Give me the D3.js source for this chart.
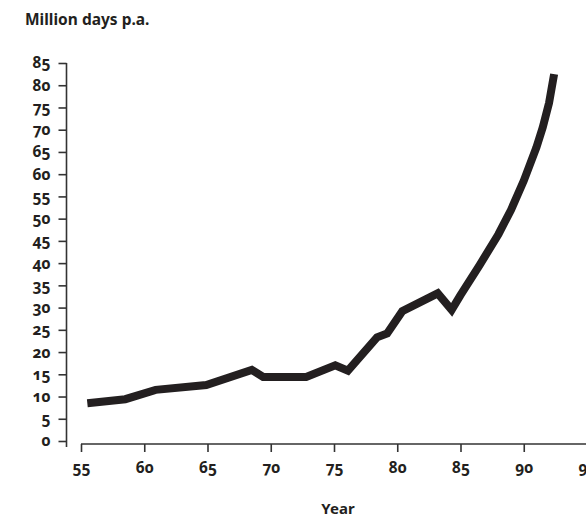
<!DOCTYPE html>
<html><head><meta charset="utf-8">
<script src="https://cdn.jsdelivr.net/npm/d3@7"></script>
<style>
html,body{margin:0;padding:0;background:#fff;}
text{font-family:"Noto Sans",sans-serif;font-weight:bold;fill:#231f20;font-variant-numeric:oldstyle-nums;}
</style></head>
<body><svg id="c" width="586" height="518"></svg>
<script>
const years = [55.5,58.5,60.9,64.9,68.5,69.4,72.8,75.1,76.1,78.4,79.2,80.4,83.2,84.3,85,86.5,88,89,90,91,91.5,92,92.4];
const values = [8.5,9.4,11.5,12.6,16,14.4,14.4,17,15.8,23.3,24.2,29.2,33.2,29.5,32.8,39.5,46.5,52,58.5,66,70.5,76,82.5];
const xTicks = [55,60,65,70,75,80,85,90,95];
const yTicks = [0,5,10,15,20,25,30,35,40,45,50,55,60,65,70,75,80,85];
const title = "Million days p.a.";
const xTitle = "Year";

const svg = d3.select("#c");
const x = d3.scaleLinear().domain([55,95]).range([81,587]);
const y = d3.scaleLinear().domain([0,85]).range([441,63]);

// y axis
const ya = svg.append("g").attr("transform","translate(66.5,0)")
  .call(d3.axisLeft(y).tickValues(yTicks).tickSize(8).tickPadding(8));
ya.select(".domain").attr("d","M0,63V447").attr("stroke","#333").attr("stroke-width",1.6);
ya.selectAll(".tick line").attr("stroke","#333").attr("stroke-width",1.6);
ya.selectAll(".tick text").attr("font-size",15.5).attr("font-family",null).attr("fill","#231f20");

// x axis
const xa = svg.append("g").attr("transform","translate(0,444)")
  .call(d3.axisBottom(x).tickValues(xTicks).tickSize(8).tickPadding(10));
xa.select(".domain").attr("d","M81,0H586").attr("stroke","#333").attr("stroke-width",1.6);
xa.selectAll(".tick line").attr("stroke","#333").attr("stroke-width",1.6);
xa.selectAll(".tick text").attr("font-size",15.5).attr("font-family",null).attr("fill","#231f20");
svg.selectAll(".domain").attr("fill","none");

// line
const pts = years.map((d,i)=>[d,values[i]]);
svg.append("path").datum(pts)
  .attr("d", d3.line().x(d=>x(d[0])).y(d=>y(d[1])))
  .attr("fill","none").attr("stroke","#231f20").attr("stroke-width",8)
  .attr("stroke-linejoin","miter").attr("stroke-linecap","butt");

svg.append("text").attr("x",25).attr("y",25).attr("font-size",15.5).text(title);
svg.append("text").attr("x",338).attr("y",514).attr("text-anchor","middle").attr("font-size",15).text(xTitle);
</script></body></html>
